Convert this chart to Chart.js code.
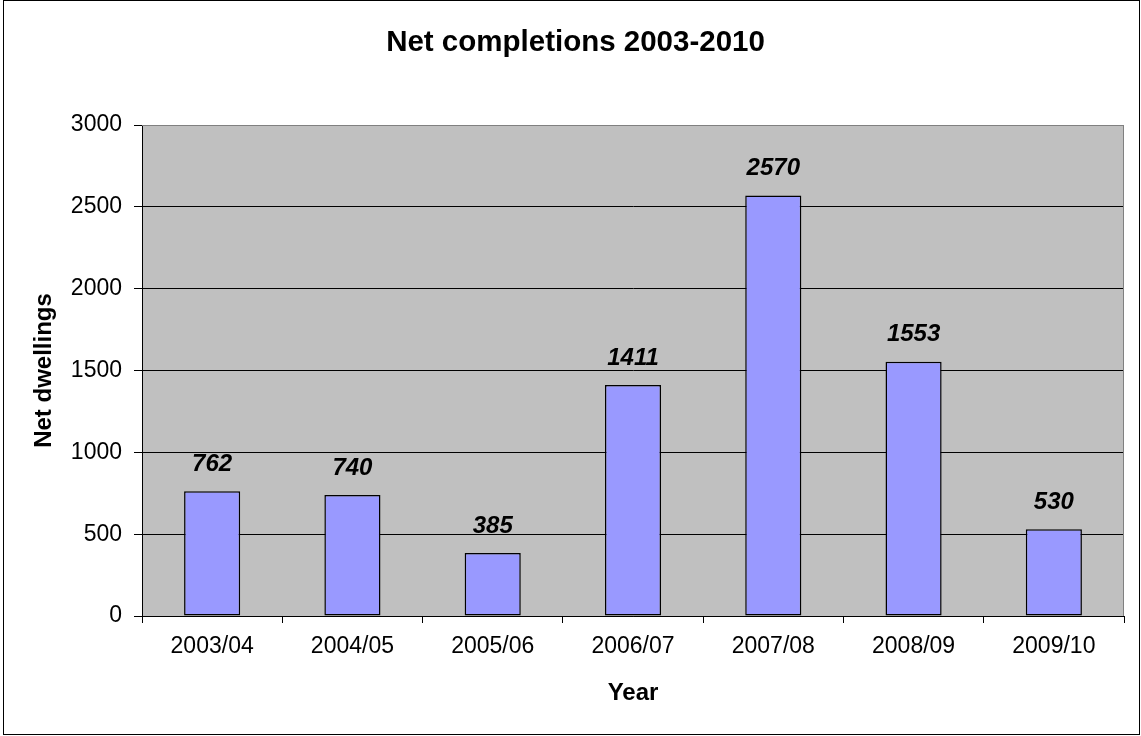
<!DOCTYPE html>
<html>
<head>
<meta charset="utf-8">
<script src="https://cdn.jsdelivr.net/npm/chart.js@4"></script>
<style>
  html, body { margin: 0; padding: 0; background: #fff; }
  #wrap { width: 1141px; height: 736px; }
</style>
</head>
<body>
<div id="wrap"><canvas id="c" width="1141" height="736"></canvas></div>
<script>
const categories = ["2003/04", "2004/05", "2005/06", "2006/07", "2007/08", "2008/09", "2009/10"];
const netDwellings = [762, 740, 385, 1411, 2570, 1553, 530];
const yTicks = [0, 500, 1000, 1500, 2000, 2500, 3000];

const FONT = "'Liberation Sans', Arial, sans-serif";

const frame = {
  id: 'frame',
  beforeDraw(chart) {
    const { ctx, chartArea: a } = chart;
    ctx.save();
    ctx.fillStyle = '#fff';
    ctx.fillRect(0, 0, chart.width, chart.height);
    ctx.fillStyle = '#C0C0C0';
    ctx.fillRect(a.left, a.top, a.right - a.left, a.bottom - a.top);
    ctx.restore();
  },
  afterDraw(chart) {
    const { ctx, chartArea: a } = chart;
    ctx.save();
    ctx.strokeStyle = '#808080';
    ctx.lineWidth = 1;
    ctx.beginPath();
    ctx.moveTo(a.left, a.top + 0.5);
    ctx.lineTo(a.right - 0.5, a.top + 0.5);
    ctx.lineTo(a.right - 0.5, a.bottom);
    ctx.stroke();
    ctx.strokeStyle = '#000';
    ctx.strokeRect(3.5, 0.5, 1136, 734);
    ctx.restore();
  }
};

const valueLabels = {
  id: 'valueLabels',
  afterDatasetsDraw(chart) {
    const { ctx } = chart;
    const meta = chart.getDatasetMeta(0);
    ctx.save();
    ctx.fillStyle = '#000';
    ctx.font = "italic bold 24px " + FONT;
    ctx.textAlign = 'center';
    ctx.textBaseline = 'middle';
    meta.data.forEach((bar, i) => {
      ctx.fillText(String(netDwellings[i]), bar.x, bar.y - 27);
    });
    ctx.restore();
  }
};

new Chart(document.getElementById('c'), {
  type: 'bar',
  data: {
    labels: categories,
    datasets: [{
      data: netDwellings,
      backgroundColor: '#9999FF',
      borderColor: '#000',
      borderWidth: 1.5,
      borderSkipped: false,
      categoryPercentage: 1,
      barPercentage: 0.4
    }]
  },
  options: {
    responsive: false,
    devicePixelRatio: 1,
    animation: false,
    layout: { padding: { left: 27, right: 17, top: 0, bottom: 0 } },
    plugins: {
      legend: { display: false },
      tooltip: { enabled: false },
      title: {
        display: true,
        text: 'Net completions 2003-2010',
        color: '#000',
        font: { family: FONT, size: 29.5, weight: 'bold', lineHeight: 1.2 },
        padding: { top: 25.3, bottom: 64.3 }
      }
    },
    scales: {
      x: {
        grid: {
          offset: true,
          drawOnChartArea: false,
          color: '#000',
          tickColor: '#000',
          tickLength: 7
        },
        border: { color: '#000', width: 1 },
        ticks: {
          color: '#000',
          font: { family: FONT, size: 23 },
          padding: 10,
          maxRotation: 0
        },
        title: {
          display: true,
          text: 'Year',
          color: '#000',
          font: { family: FONT, size: 24, weight: 'bold', lineHeight: 1.2 },
          padding: { top: 0, bottom: 28.6 }
        },
        afterFit(scale) { scale.height = 120; }
      },
      y: {
        min: 0,
        max: 3000,
        afterBuildTicks(scale) { scale.ticks = yTicks.map(v => ({ value: v })); },
        grid: {
          color: (c) => (c.tick && c.tick.value === 3000) ? '#808080' : '#000',
          tickColor: '#000',
          tickLength: 8
        },
        border: { color: '#000', width: 1 },
        ticks: {
          color: '#000',
          font: { family: FONT, size: 23 },
          padding: 12,
          callback: (v) => String(v)
        },
        title: {
          display: true,
          text: 'Net dwellings',
          color: '#000',
          font: { family: FONT, size: 24, weight: 'bold', lineHeight: 1.2 },
          padding: { top: 2.6, bottom: 0 }
        },
        afterFit(scale) { scale.width = 115; }
      }
    }
  },
  plugins: [frame, valueLabels]
});
</script>
</body>
</html>
